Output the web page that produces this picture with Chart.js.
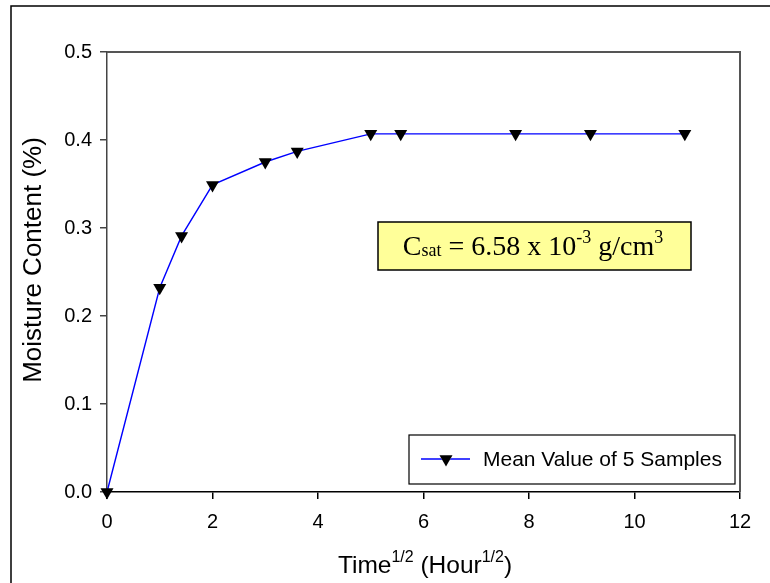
<!DOCTYPE html>
<html lang="en">
<head>
<meta charset="UTF-8">
<title>Moisture Content</title>
<script src="https://cdnjs.cloudflare.com/ajax/libs/Chart.js/4.4.1/chart.umd.min.js"></script>
<style>
  html, body { margin: 0; padding: 0; background: #fff; }
</style>
</head>
<body>
<canvas id="myChart" width="770" height="583"></canvas>
<script>
// data: time^(1/2) vs moisture content
let timeRoot = [0, 1, 1.414, 2, 3, 3.606, 5, 5.568, 7.746, 9.165, 10.954]
let moisture = [0, 0.232, 0.291, 0.349, 0.375, 0.387, 0.407, 0.407, 0.407, 0.407, 0.407]
let seriesName = 'Mean Value of 5 Samples'
let xTicks = [0, 2, 4, 6, 8, 10, 12]
let yTicks = [0.0, 0.1, 0.2, 0.3, 0.4, 0.5]

const sans = "'Liberation Sans', Arial, sans-serif"
const serif = "'Liberation Serif', 'Times New Roman', serif"

// draw runs of text with super/subscripts, returns total width
function runs(ctx, parts, x, y, measureOnly) {
    let w = 0
    parts.forEach(p => {
        ctx.font = p.size + 'px ' + p.family
        if (!measureOnly) ctx.fillText(p.t, x + w, y - (p.dy || 0))
        w += ctx.measureText(p.t).width
    })
    return w
}

const extras = {
    id: 'extras',
    beforeDraw(chart) {
        const ctx = chart.ctx
        ctx.save()
        ctx.fillStyle = '#fff'
        ctx.fillRect(0, 0, chart.width, chart.height)
        ctx.restore()
    },
    afterDraw(chart) {
        const ctx = chart.ctx
        const a = chart.chartArea
        ctx.save()

        // outer frame
        ctx.strokeStyle = '#000'
        ctx.lineWidth = 1.5
        ctx.beginPath()
        ctx.moveTo(11, chart.height)
        ctx.lineTo(11, 6)
        ctx.lineTo(chart.width, 6)
        ctx.stroke()

        // top and right side of plot frame
        ctx.strokeStyle = '#555'
        ctx.lineWidth = 2
        ctx.beginPath()
        ctx.moveTo(a.left, a.top)
        ctx.lineTo(a.right, a.top)
        ctx.lineTo(a.right, a.bottom)
        ctx.stroke()

        ctx.fillStyle = '#000'

        // y title
        ctx.save()
        ctx.translate(34, 260)
        ctx.rotate(-Math.PI / 2)
        ctx.font = '26px ' + sans
        ctx.textAlign = 'center'
        ctx.textBaseline = 'middle'
        ctx.fillText('Moisture Content (%)', 0, 0)
        ctx.restore()

        // x title with superscripts
        ctx.textBaseline = 'alphabetic'
        const xt = [
            { t: 'Time', size: 24.5, family: sans },
            { t: '1/2', size: 16, family: sans, dy: 11 },
            { t: ' (Hour', size: 24.5, family: sans },
            { t: '1/2', size: 16, family: sans, dy: 11 },
            { t: ')', size: 24.5, family: sans }
        ]
        const xw = runs(ctx, xt, 0, 0, true)
        runs(ctx, xt, 425 - xw / 2, 573)

        // annotation box
        ctx.fillStyle = '#ffff99'
        ctx.fillRect(378, 222, 313, 48)
        ctx.strokeStyle = '#000'
        ctx.lineWidth = 1.5
        ctx.strokeRect(378, 222, 313, 48)
        ctx.fillStyle = '#000'
        const an = [
            { t: 'C', size: 28, family: serif },
            { t: 'sat', size: 18, family: serif, dy: -1 },
            { t: ' = 6.58 x 10', size: 28, family: serif },
            { t: '-3', size: 18, family: serif, dy: 12 },
            { t: ' g/cm', size: 28, family: serif },
            { t: '3', size: 18, family: serif, dy: 12 }
        ]
        const aw = runs(ctx, an, 0, 0, true)
        runs(ctx, an, 533 - aw / 2, 255)

        // legend
        const ds = chart.data.datasets[0]
        ctx.fillStyle = '#fff'
        ctx.fillRect(409, 435, 326, 49)
        ctx.strokeStyle = '#000'
        ctx.lineWidth = 1.2
        ctx.strokeRect(409, 435, 326, 49)
        ctx.strokeStyle = ds.borderColor
        ctx.lineWidth = ds.borderWidth
        ctx.beginPath()
        ctx.moveTo(421, 459)
        ctx.lineTo(470, 459)
        ctx.stroke()
        Chart.helpers.drawPoint(ctx, {
            pointStyle: ds.pointStyle, rotation: ds.pointRotation,
            radius: ds.pointRadius, borderWidth: 0
        }, 446, 459)
        ctx.fillStyle = '#000'
        ctx.fill()
        ctx.font = '21px ' + sans
        ctx.textBaseline = 'middle'
        ctx.fillText(ds.label, 483, 460)

        ctx.restore()
    }
}

const ctx = document.getElementById('myChart').getContext('2d')
const myChart = new Chart(ctx, {
    type: 'line',
    data: {
        datasets: [{
            label: seriesName,
            data: timeRoot.map((t, i) => ({ x: t, y: moisture[i] })),
            borderColor: '#0000ff',
            borderWidth: 1.4,
            pointStyle: 'triangle',
            pointRotation: 180,
            pointRadius: 7.5,
            pointBackgroundColor: '#000',
            pointBorderColor: '#000',
            pointBorderWidth: 0,
            tension: 0,
            clip: false
        }]
    },
    options: {
        responsive: false,
        animation: false,
        devicePixelRatio: 1,
        layout: { padding: { left: 0, top: 52, right: 30, bottom: 0 } },
        plugins: {
            legend: { display: false },
            tooltip: { enabled: false }
        },
        scales: {
            x: {
                type: 'linear',
                min: 0,
                max: 12,
                afterBuildTicks: s => { s.ticks = xTicks.map(v => ({ value: v })) },
                afterFit: s => { s.height = 91 },
                ticks: { color: '#000', font: { size: 20, family: sans }, padding: 11 },
                grid: { drawOnChartArea: false, tickLength: 7, color: '#000', lineWidth: 1.5 },
                border: { color: '#000', width: 1.5 }
            },
            y: {
                min: 0,
                max: 0.5,
                afterBuildTicks: s => { s.ticks = yTicks.map(v => ({ value: v })) },
                afterFit: s => { s.width = 107 },
                ticks: {
                    color: '#000', font: { size: 20, family: sans }, padding: 8,
                    callback: v => v.toFixed(1)
                },
                grid: { drawOnChartArea: false, tickLength: 7, color: '#444', lineWidth: 1.5 },
                border: { color: '#444', width: 1.5 }
            }
        }
    },
    plugins: [extras]
})
</script>
</body>
</html>
